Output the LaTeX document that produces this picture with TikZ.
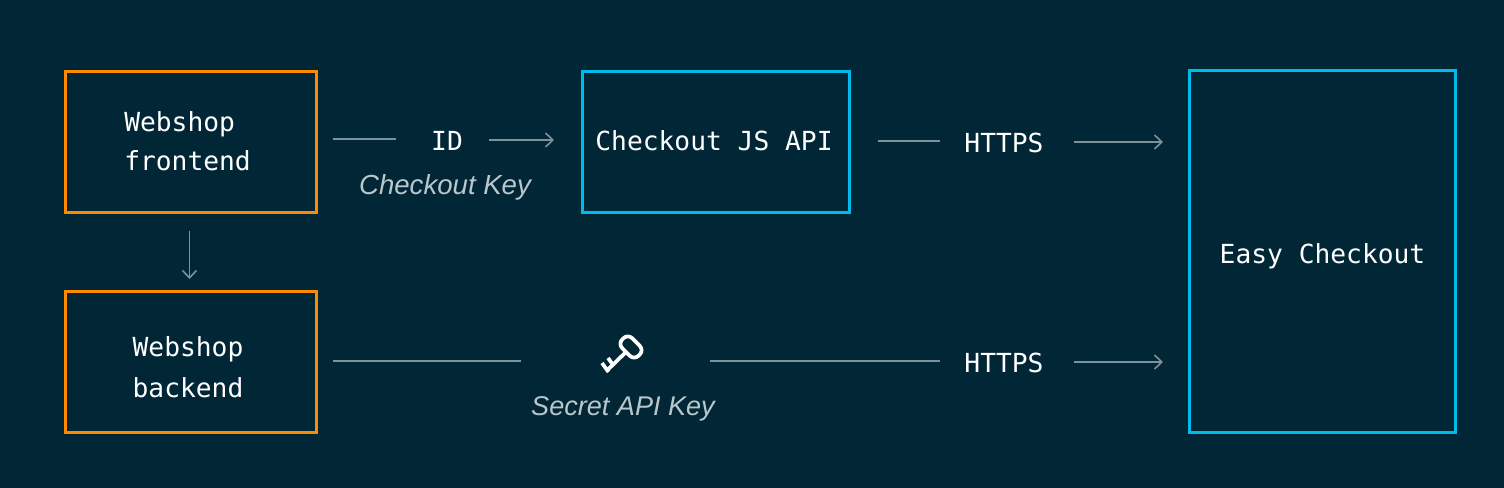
\documentclass[tikz,border=0pt]{standalone}
\usepackage{fontspec}
\setmainfont{Liberation Sans}
\newfontfamily\labelmono{DejaVu Sans Mono}
\usetikzlibrary{arrows.meta}
\definecolor{bgc}{HTML}{012635}
\definecolor{orangec}{HTML}{FF8A00}
\definecolor{bluec}{HTML}{00BAEC}
\definecolor{linec}{HTML}{7E9299}
\definecolor{subc}{HTML}{B9C7CC}
\tikzset{
  x=0.75pt,y=-0.75pt,
  boxbase/.style={draw,line width=2.25pt,inner sep=0pt},
  orangebox/.style={boxbase,draw=orangec},
  bluebox/.style={boxbase,draw=bluec},
  monolabel/.style={text=white,inner sep=0pt,font=\labelmono\fontsize{19.7}{24}\selectfont},
  sublabel/.style={text=subc,inner sep=0pt,font=\itshape\fontsize{20.7}{24}\selectfont},
  sublabelb/.style={text=subc,inner sep=0pt,font=\itshape\fontsize{20.3}{24}\selectfont},
  link/.style={draw=linec,line width=1.2pt},
  arrowlink/.style={link,-{Straight Barb[length=5.5pt,width=10.5pt,line width=1.2pt]}},
  keystroke/.style={draw=white,line width=2.8pt}
}
\begin{document}
\begin{tikzpicture}
\fill[bgc] (0,0) rectangle (1504,488);
\useasboundingbox (0,0) rectangle (1504,488);
\node[orangebox,minimum width=188pt,minimum height=105.75pt] (fe) at (191,142) {};
\node[orangebox,minimum width=188pt,minimum height=105.75pt] (be) at (191,362) {};
\node[bluebox,minimum width=200.5pt,minimum height=105.75pt] (js) at (716,142) {};
\node[bluebox,minimum width=200pt,minimum height=271.5pt] (ec) at (1322.5,252) {};
\node[monolabel,anchor=west] (fet1) at (124,124) {Webshop};
\node[monolabel,anchor=west] (fet2) at (124,161) {frontend};
\node[monolabel] (bet1) at (188,349) {Webshop};
\node[monolabel] (bet2) at (188,387.5) {backend};
\node[monolabel] (jst) at (714,141) {Checkout JS API};
\node[monolabel] (ect) at (1322.5,256) {Easy Checkout};
\node[monolabel] (id) at (447,141) {ID};
\node[monolabel] (h1) at (1004,142.5) {HTTPS};
\node[monolabel] (h2) at (1004,362.5) {HTTPS};
\node[sublabel] (ck) at (445,187) {Checkout Key};
\node[sublabelb] (sk) at (623,408.5) {Secret API Key};
\coordinate (a1) at (333,139); \coordinate (a2) at (396,139);
\coordinate (a3) at (489,140); \coordinate (a4) at (554,140);
\coordinate (b1) at (878,141); \coordinate (b2) at (940,141);
\coordinate (b3) at (1074,142); \coordinate (b4) at (1163,142);
\coordinate (c1) at (333,361); \coordinate (c2) at (521,361);
\coordinate (c3) at (710,361); \coordinate (c4) at (940,361);
\coordinate (c5) at (1074,362); \coordinate (c6) at (1163,362);
\coordinate (d1) at (189.5,231); \coordinate (d2) at (189.5,279);
\draw[link] (a1) -- (a2);
\draw[arrowlink] (a3) -- (a4);
\draw[link] (b1) -- (b2);
\draw[arrowlink] (b3) -- (b4);
\draw[link] (c1) -- (c2);
\draw[link] (c3) -- (c4);
\draw[arrowlink] (c5) -- (c6);
\draw[arrowlink] (d1) -- (d2);
% key
\begin{scope}[shift={(631,347)},rotate=-45]
\draw[keystroke,rounded corners=4.5pt] (-11.5,-7) rectangle (11.5,7);
\end{scope}
\draw[keystroke] (626,352) -- (607,370.5);
\draw[keystroke] (602,363) -- (608.5,372);
\draw[keystroke] (608,358) -- (613.5,365.5);
\end{tikzpicture}
\end{document}
